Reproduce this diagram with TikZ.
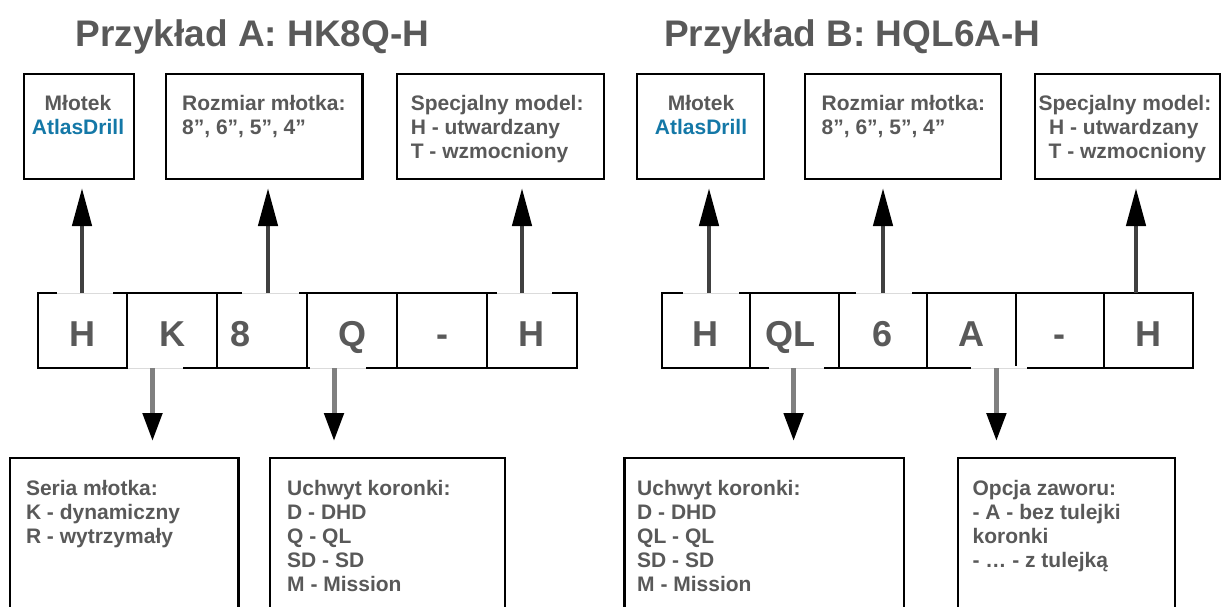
\documentclass[tikz,border=0pt]{standalone}
\usepackage{fontspec}
\setmainfont{Liberation Sans}
\usetikzlibrary{arrows.meta}
\definecolor{txt}{HTML}{595959}
\definecolor{brand}{HTML}{1478A7}
\newcommand\firstlinestrut{\rule{0pt}{20pt}}

\begin{document}
\begin{tikzpicture}[x=1pt,y=-1pt,
  infobox/.style={draw=black,line width=2.4pt,anchor=north west,inner sep=0pt,outer sep=0pt},
  cell/.style={draw=black,line width=2pt,anchor=north west,inner sep=0pt,outer sep=0pt,
    minimum height=75pt,text=txt,font=\fontsize{36}{40}\selectfont\bfseries,
    text height=31pt,text depth=0pt},
  title/.style={anchor=base west,inner sep=0pt,text=txt,font=\fontsize{37}{44}\selectfont\bfseries},
  boxtext/.style={anchor=north west,inner sep=0pt,align=left,text=txt,
    font=\fontsize{21}{24}\selectfont\bfseries},
  boxtextc/.style={boxtext,anchor=north,align=center},
  uparrow/.style={draw=black!75,line width=4.5pt,
    -{Triangle[length=38pt,width=19pt,color=black]}},
  downarrow/.style={draw=black!50,line width=5pt,
    -{Triangle[length=28pt,width=19pt,color=black]}},
  gapmask/.style={draw=white,line width=3.4pt},
  gapline/.style={draw=black!14,line width=0.8pt}
]
\useasboundingbox (0,0) rectangle (1222,606);
\clip (0,0) rectangle (1222,606);

% ---------- titles ----------
\node[title] (titleA) at (75.5,46.7) {Przykład A: HK8Q-H};
\node[title] (titleB) at (664,46.7) {Przykład B: HQL6A-H};

% ---------- upper description boxes ----------
\node[infobox,minimum width=110pt,minimum height=105pt]   (tA1) at (24,74)   {};
\node[infobox,minimum width=196.5pt,minimum height=105pt] (tA2) at (166,74)  {};
\node[infobox,minimum width=207pt,minimum height=105pt]   (tA3) at (397,74)  {};
\node[infobox,minimum width=127pt,minimum height=105pt]   (tB1) at (637,74)  {};
\node[infobox,minimum width=196pt,minimum height=105pt]   (tB2) at (805,74)  {};
\node[infobox,minimum width=185pt,minimum height=105pt]   (tB3) at (1035,74) {};

\node[boxtextc] (xA1) at (78,90) {\firstlinestrut Młotek\\{\color{brand}AtlasDrill}};
\node[boxtext]  (xA2) at (182,90) {\firstlinestrut Rozmiar młotka:\\8”, 6”, 5”, 4”};
\node[boxtext]  (xA3) at (410.6,90) {\firstlinestrut Specjalny model:\\H - utwardzany\\T - wzmocniony};
\node[boxtextc] (xB1) at (701,90) {\firstlinestrut Młotek\\{\color{brand}AtlasDrill}};
\node[boxtext]  (xB2) at (821.5,90) {\firstlinestrut Rozmiar młotka:\\8”, 6”, 5”, 4”};
\node[boxtext]  (xB3) at (1038.4,90) {\firstlinestrut Specjalny model:\\\hspace*{10.5pt}H - utwardzany\\\hspace*{10pt}T - wzmocniony};

% ---------- code cells ----------
\node[cell,minimum width=89.9pt] (cA1) at (37.5,293)  {H};
\node[cell,minimum width=89.9pt] (cA2) at (127.4,293) {K};
\node[cell,minimum width=89.9pt] (cA3) at (217.3,293) {8\hspace*{44pt}};
\node[cell,minimum width=89.9pt] (cA4) at (307.2,293) {Q};
\node[cell,minimum width=89.9pt] (cA5) at (397.1,293) {-};
\node[cell,minimum width=89.9pt] (cA6) at (487,293)   {H};

\node[cell,minimum width=88.5pt] (cB1) at (661.5,293) {H};
\node[cell,minimum width=88.5pt] (cB2) at (750,293)   {QL\hspace*{8pt}};
\node[cell,minimum width=88.5pt] (cB3) at (838.5,293) {6};
\node[cell,minimum width=88.5pt] (cB4) at (927,293)   {A};
\node[cell,minimum width=88.5pt] (cB5) at (1015.5,293){-};
\node[cell,minimum width=88.5pt] (cB6) at (1104,293)  {H};

% breaks in the cell outlines where the arrows meet them
\foreach \a/\b/\y in {57/112.6/293, 242/299/293, 497/552/293,
                      128/182.5/368, 310/365.6/368,
                      683/739/293, 856/912/293,
                      769/824/368, 971/1027/368}{
  \draw[gapmask] (\a,\y) -- (\b,\y);
  \draw[gapline] (\a,\y) -- (\b,\y);
}

% ---------- lower description boxes ----------
\node[infobox,minimum width=228.5pt,minimum height=170pt] (bA1) at (10,458)    {};
\node[infobox,minimum width=235pt,minimum height=170pt]   (bA2) at (270,458)   {};
\node[infobox,minimum width=279.4pt,minimum height=170pt] (bB1) at (624.6,458) {};
\node[infobox,minimum width=217pt,minimum height=170pt]   (bB2) at (958,458)   {};

\node[boxtext] (yA1) at (25.8,475) {\firstlinestrut Seria młotka:\\K - dynamiczny\\R - wytrzymały};
\node[boxtext] (yA2) at (287,475)  {\firstlinestrut Uchwyt koronki:\\D - DHD\\Q - QL\\SD - SD\\M - Mission};
\node[boxtext] (yB1) at (637,475)  {\firstlinestrut Uchwyt koronki:\\D - DHD\\QL - QL\\SD - SD\\M - Mission};
\node[boxtext] (yB2) at (972.4,475){\firstlinestrut Opcja zaworu:\\- A - bez tulejki\\koronki\\- … - z tulejką};

% ---------- arrow ends ----------
\coordinate (uA1) at (82,188);
\coordinate (uA3) at (268,188);
\coordinate (uA6) at (522,188);
\coordinate (uB1) at (709,188);
\coordinate (uB3) at (883,188);
\coordinate (uB6) at (1136,188);
\coordinate (dA2) at (152.5,441);
\coordinate (dA4) at (334,441);
\coordinate (dB2) at (793.6,441);
\coordinate (dB4) at (996.4,441);

% ---------- arrows ----------
\draw[uparrow] (cA1.north -| uA1) -- (uA1);
\draw[uparrow] (cA3.north -| uA3) -- (uA3);
\draw[uparrow] (cA6.north -| uA6) -- (uA6);
\draw[uparrow] (cB1.north -| uB1) -- (uB1);
\draw[uparrow] (cB3.north -| uB3) -- (uB3);
\draw[uparrow] (cB6.north -| uB6) -- (uB6);
\draw[downarrow] (cA2.south -| dA2) -- (dA2);
\draw[downarrow] (cA4.south -| dA4) -- (dA4);
\draw[downarrow] (cB2.south -| dB2) -- (dB2);
\draw[downarrow] (cB4.south -| dB4) -- (dB4);
\end{tikzpicture}
\end{document}
